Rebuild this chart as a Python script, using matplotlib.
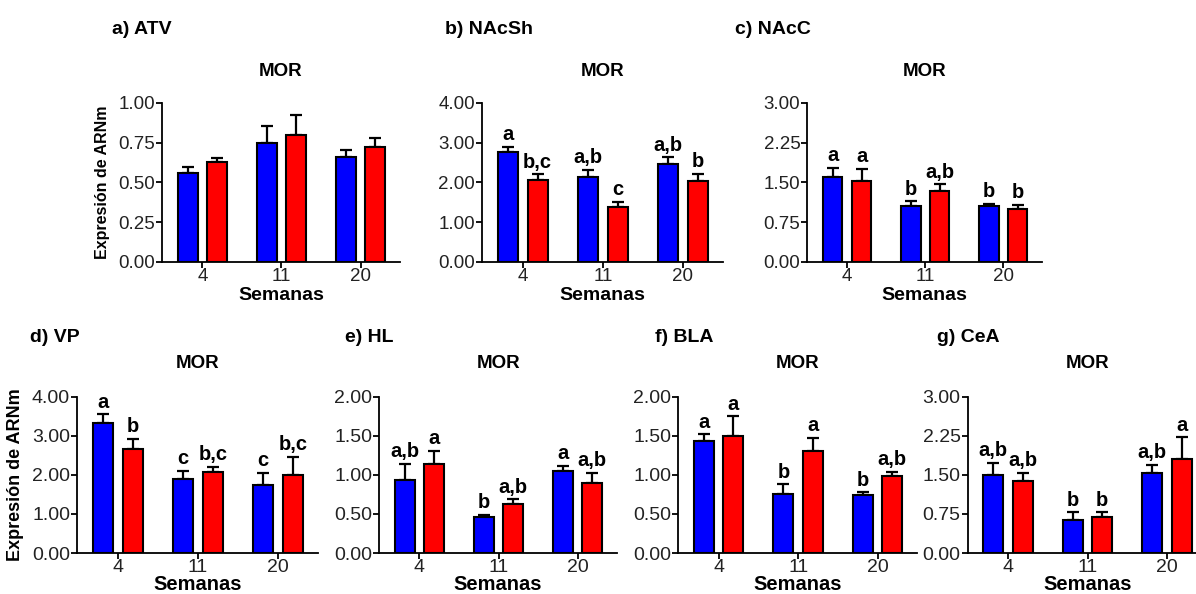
import matplotlib
matplotlib.use("Agg")
import matplotlib.pyplot as plt
import numpy as np

plt.rcParams['font.family'] = ['Liberation Sans', 'DejaVu Sans']

weeks = ['4', '11', '20']

# a) ATV
atv_blue = [0.558, 0.747, 0.659]
atv_blue_err = [0.036, 0.110, 0.046]
atv_red = [0.625, 0.798, 0.724]
atv_red_err = [0.028, 0.122, 0.055]

# b) NAcSh
nacsh_blue = [2.77, 2.14, 2.45]
nacsh_blue_err = [0.12, 0.17, 0.18]
nacsh_red = [2.05, 1.37, 2.04]
nacsh_red_err = [0.15, 0.13, 0.18]
nacsh_blue_let = ['a', 'a,b', 'a,b']
nacsh_red_let = ['b,c', 'c', 'b']

# c) NAcC
nacc_blue = [1.60, 1.055, 1.056]
nacc_blue_err = [0.18, 0.085, 0.04]
nacc_red = [1.535, 1.34, 1.00]
nacc_red_err = [0.225, 0.12, 0.075]
nacc_blue_let = ['a', 'b', 'b']
nacc_red_let = ['a', 'a,b', 'b']

# d) VP
vp_blue = [3.33, 1.90, 1.75]
vp_blue_err = [0.22, 0.21, 0.30]
vp_red = [2.67, 2.07, 1.99]
vp_red_err = [0.25, 0.13, 0.47]
vp_blue_let = ['a', 'c', 'c']
vp_red_let = ['b', 'b,c', 'b,c']

# e) HL
hl_blue = [0.93, 0.458, 1.047]
hl_blue_err = [0.21, 0.03, 0.065]
hl_red = [1.14, 0.627, 0.90]
hl_red_err = [0.165, 0.06, 0.13]
hl_blue_let = ['a,b', 'b', 'a']
hl_red_let = ['a', 'a,b', 'a,b']

# f) BLA
bla_blue = [1.43, 0.754, 0.74]
bla_blue_err = [0.09, 0.125, 0.035]
bla_red = [1.50, 1.31, 0.98]
bla_red_err = [0.25, 0.16, 0.06]
bla_blue_let = ['a', 'b', 'b']
bla_red_let = ['a', 'a', 'a,b']

# g) CeA
cea_blue = [1.506, 0.629, 1.53]
cea_blue_err = [0.225, 0.15, 0.16]
cea_red = [1.39, 0.686, 1.80]
cea_red_err = [0.15, 0.095, 0.42]
cea_blue_let = ['a,b', 'b', 'a,b']
cea_red_let = ['a,b', 'b', 'a']


def draw_panel(ax, blue, blue_err, red, red_err, ymax, ystep,
               blue_let=None, red_let=None, ylabel=False, title_pad=19,
               tick_fs=13.5, xlab_fs=14, ylab_fs=11.5, xlab_y=-0.21):
    x = np.arange(len(weeks))
    w = 0.25
    off = 0.185
    for xs, vals, errs, col, lets in [(x - off, blue, blue_err, '#0000ff', blue_let),
                                      (x + off, red, red_err, '#ff0000', red_let)]:
        ax.bar(xs, vals, w, color=col, edgecolor='black', linewidth=1.5, zorder=2)
        ax.errorbar(xs, vals, yerr=[np.zeros(len(vals)), errs], fmt='none',
                    ecolor='black', elinewidth=1.6, capsize=4, capthick=1.6, zorder=1)
        if lets:
            for xi, v, e, t in zip(xs, vals, errs, lets):
                ax.annotate(t, (xi, v + e), xytext=(0, 2), textcoords='offset points',
                            ha='center', va='bottom', fontsize=14.5, fontweight='bold')
    ax.set_xlim(-0.51, 2.5)
    ax.set_ylim(0, ymax)
    yt = np.arange(0, ymax + ystep / 2, ystep)
    ax.set_yticks(yt)
    ax.set_yticklabels(['%.2f' % t for t in yt])
    ax.set_xticks(x)
    ax.set_xticklabels(weeks)
    ax.spines['top'].set_visible(False)
    ax.spines['right'].set_visible(False)
    for s in ['left', 'bottom']:
        ax.spines[s].set_linewidth(1.3)
    ax.tick_params(axis='both', direction='out', length=4, width=1.3,
                   labelsize=tick_fs, pad=1, colors='black', labelcolor='#222222')
    ax.tick_params(axis='x', pad=0.5)
    ax.set_title('MOR', fontsize=13.5, fontweight='bold', pad=title_pad)
    ax.set_xlabel('Semanas', fontsize=xlab_fs, fontweight='bold', va='center')
    ax.xaxis.set_label_coords(0.5, xlab_y)
    if ylabel:
        ax.set_ylabel('Expresión de ARNm', fontsize=ylab_fs, fontweight='bold', labelpad=6)


fig = plt.figure(figsize=(11.96, 5.94), dpi=100, facecolor='white')

top_y, top_h = 0.559, 0.268
bot_y, bot_h = 0.069, 0.263

ax_a = fig.add_axes([0.1355, top_y, 0.199, top_h])
ax_b = fig.add_axes([0.403, top_y, 0.2015, top_h])
ax_c = fig.add_axes([0.675, top_y, 0.1965, top_h])
ax_d = fig.add_axes([0.0644, bot_y, 0.2015, bot_h])
ax_e = fig.add_axes([0.317, bot_y, 0.199, bot_h])
ax_f = fig.add_axes([0.567, bot_y, 0.200, bot_h])
ax_g = fig.add_axes([0.809, bot_y, 0.200, bot_h])

bottom = dict(title_pad=21, tick_fs=14, xlab_fs=14.5, ylab_fs=13, xlab_y=-0.20)

draw_panel(ax_a, atv_blue, atv_blue_err, atv_red, atv_red_err, 1.0, 0.25, ylabel=True)
draw_panel(ax_b, nacsh_blue, nacsh_blue_err, nacsh_red, nacsh_red_err, 4.0, 1.0,
           nacsh_blue_let, nacsh_red_let)
draw_panel(ax_c, nacc_blue, nacc_blue_err, nacc_red, nacc_red_err, 3.0, 0.75,
           nacc_blue_let, nacc_red_let)
draw_panel(ax_d, vp_blue, vp_blue_err, vp_red, vp_red_err, 4.0, 1.0,
           vp_blue_let, vp_red_let, ylabel=True, **bottom)
draw_panel(ax_e, hl_blue, hl_blue_err, hl_red, hl_red_err, 2.0, 0.5,
           hl_blue_let, hl_red_let, **bottom)
draw_panel(ax_f, bla_blue, bla_blue_err, bla_red, bla_red_err, 2.0, 0.5,
           bla_blue_let, bla_red_let, **bottom)
draw_panel(ax_g, cea_blue, cea_blue_err, cea_red, cea_red_err, 3.0, 0.75,
           cea_blue_let, cea_red_let, **bottom)

# panel letters
panel_labels = ['a) ATV', 'b) NAcSh', 'c) NAcC', 'd) VP', 'e) HL', 'f) BLA', 'g) CeA']
panel_xy = [(112, 30), (445, 30), (735, 30), (30, 338), (345, 338), (655, 338), (937, 338)]
for t, (px, py) in zip(panel_labels, panel_xy):
    fig.text(px / 1196, 1 - py / 594, t, fontsize=14, fontweight='bold',
             ha='left', va='center')

fig.savefig('out.png', dpi=100, facecolor='white')
